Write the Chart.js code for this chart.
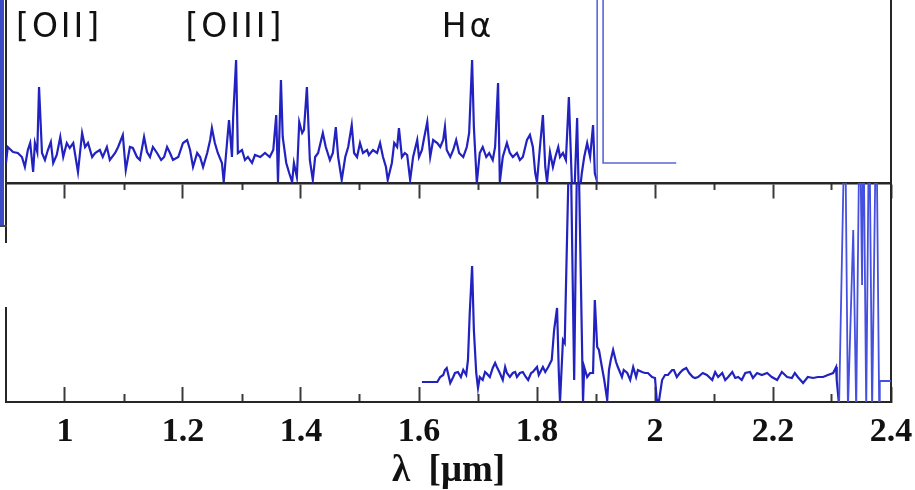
<!DOCTYPE html>
<html>
<head>
<meta charset="utf-8">
<title>Spectrum</title>
<script src="https://cdn.jsdelivr.net/npm/chart.js@4.4.1/dist/chart.umd.min.js"></script>
<style>
  body { margin: 0; background: #fff; }
  #wrap { position: relative; width: 915px; height: 490px; overflow: hidden; }
  #spec { position: absolute; left: 0; top: 0; }
  .edge { position: absolute; }
</style>
</head>
<body>
<div id="wrap">
  <canvas id="spec" width="915" height="490"></canvas>
  <div class="edge" style="left:0;top:0;width:4px;height:225px;background:#3b4cc6"></div>
  <div class="edge" style="left:0;top:225px;width:7px;height:2px;background:#444"></div>
  <div class="edge" style="left:4px;top:243px;width:5px;height:64px;background:#fff"></div>
</div>
<script>
// wavelength range in µm
const lambdaMin = 0.9;
const lambdaMax = 2.4;

const majorTicks = [1, 1.2, 1.4, 1.6, 1.8, 2, 2.2, 2.4];
const majorTickLabels = ['1', '1.2', '1.4', '1.6', '1.8', '2', '2.2', '2.4'];
const minorTicks = [1.1, 1.3, 1.5, 1.7, 1.9, 2.1, 2.3];

// emission line names and where they sit on the wavelength axis
const lineNames = ['[OII]', '[OIII]', 'H\u03b1'];
const lineLambda = [0.99, 1.288, 1.683];

// flux ranges of the two panels (arbitrary units)
const topFluxMax = 18.3;
const botFluxMax = 21.9;

// upper panel: J/H spectrum
const topLambda = [
  0.900, 0.903, 0.912, 0.920, 0.927, 0.932, 0.937, 0.941, 0.946, 0.949,
  0.953, 0.956, 0.961, 0.966, 0.971, 0.976, 0.980, 0.986, 0.992, 0.997,
  1.003, 1.008, 1.014, 1.022, 1.029, 1.034, 1.039, 1.046, 1.051, 1.059,
  1.064, 1.071, 1.076, 1.085, 1.090, 1.098, 1.103, 1.110, 1.115, 1.122,
  1.127, 1.134, 1.139, 1.144, 1.149, 1.156, 1.163, 1.168, 1.173, 1.178,
  1.183, 1.192, 1.200, 1.207, 1.212, 1.217, 1.224, 1.229, 1.234, 1.241,
  1.246, 1.249, 1.254, 1.259, 1.266, 1.269, 1.275, 1.278, 1.283, 1.285,
  1.290, 1.293, 1.300, 1.305, 1.310, 1.317, 1.322, 1.331, 1.339, 1.347,
  1.353, 1.358, 1.361, 1.366, 1.369, 1.375, 1.380, 1.385, 1.388, 1.393,
  1.397, 1.402, 1.405, 1.410, 1.415, 1.420, 1.424, 1.429, 1.437, 1.442,
  1.449, 1.454, 1.459, 1.463, 1.469, 1.475, 1.480, 1.486, 1.490, 1.495,
  1.500, 1.505, 1.512, 1.515, 1.522, 1.529, 1.534, 1.539, 1.544, 1.547,
  1.554, 1.558, 1.563, 1.566, 1.571, 1.576, 1.580, 1.585, 1.590, 1.597,
  1.600, 1.605, 1.608, 1.614, 1.619, 1.624, 1.631, 1.636, 1.641, 1.644,
  1.647, 1.653, 1.658, 1.663, 1.668, 1.675, 1.681, 1.685, 1.690, 1.693,
  1.698, 1.703, 1.708, 1.714, 1.719, 1.725, 1.729, 1.734, 1.737, 1.742,
  1.749, 1.754, 1.759, 1.766, 1.771, 1.776, 1.783, 1.788, 1.793, 1.797,
  1.800, 1.805, 1.810, 1.814, 1.817, 1.822, 1.827, 1.831, 1.836, 1.839,
  1.844, 1.849, 1.854, 1.859, 1.863, 1.868, 1.871, 1.876, 1.880, 1.885,
  1.890, 1.895, 1.898, 1.902, 1.902, 1.912, 1.912, 2.036
];
const topFlux = [
  2.0, 3.6, 3.1, 3.0, 2.6, 1.6, 3.3, 4.0, 1.1, 4.0,
  3.1, 9.6, 3.0, 2.3, 3.3, 4.1, 2.0, 2.8, 4.6, 2.6,
  4.0, 3.5, 4.0, 1.1, 5.0, 3.6, 4.0, 2.6, 3.0, 3.3,
  2.6, 3.6, 2.3, 3.0, 3.6, 4.8, 1.3, 3.6, 3.5, 2.6,
  2.3, 4.6, 3.1, 2.6, 3.6, 3.0, 2.3, 2.6, 3.6, 3.0,
  2.3, 2.6, 4.0, 4.3, 3.3, 1.6, 3.0, 2.6, 1.6, 3.0,
  4.3, 5.5, 4.0, 3.0, 2.0, 0.1, 4.3, 6.3, 2.6, 6.6,
  12.3, 3.0, 3.3, 2.3, 2.6, 2.0, 2.8, 2.6, 3.0, 2.6,
  3.3, 6.8, 0.1, 10.3, 4.6, 2.0, 1.0, 0.1, 2.0, 0.6,
  6.1, 5.0, 5.3, 9.6, 2.3, 0.3, 2.6, 3.0, 5.0, 3.6,
  2.3, 3.0, 5.6, 2.6, 0.3, 2.6, 3.6, 5.8, 3.0, 2.6,
  4.0, 3.0, 3.3, 2.8, 3.3, 3.0, 4.0, 2.6, 1.6, 0.3,
  2.0, 4.0, 3.6, 5.5, 2.6, 3.0, 2.8, 0.3, 2.6, 4.3,
  2.6, 3.3, 4.3, 6.1, 2.6, 4.3, 4.0, 3.6, 4.3, 5.6,
  3.3, 2.6, 3.3, 4.3, 3.0, 2.6, 3.6, 5.0, 12.3, 5.6,
  0.0, 3.0, 3.6, 2.6, 3.0, 2.3, 3.6, 10.0, 0.1, 2.6,
  4.0, 3.0, 2.6, 3.0, 2.3, 2.6, 4.3, 4.8, 3.6, 1.0,
  0.1, 3.6, 6.8, 1.6, 0.1, 3.1, 1.6, 2.6, 3.6, 2.6,
  3.0, 2.3, 8.6, 0.1, -1.7, 6.5, -1.7, 1.0, 2.6, 4.0,
  2.6, 5.8, 1.0, 0.1, 25.0, 25.0, 2.0, 2.0
];

// lower panel: H/K spectrum
const botLambda = [
  1.605, 1.631, 1.636, 1.641, 1.644, 1.647, 1.653, 1.658, 1.661, 1.666,
  1.671, 1.675, 1.680, 1.683, 1.686, 1.690, 1.693, 1.697, 1.700, 1.703,
  1.708, 1.712, 1.714, 1.720, 1.725, 1.729, 1.732, 1.737, 1.742, 1.746,
  1.749, 1.754, 1.759, 1.763, 1.766, 1.771, 1.776, 1.781, 1.785, 1.790,
  1.793, 1.800, 1.803, 1.810, 1.814, 1.819, 1.825, 1.829, 1.834, 1.837,
  1.839, 1.844, 1.847, 1.856, 1.863, 1.869, 1.878, 1.880, 1.885, 1.890,
  1.895, 1.898, 1.902, 1.905, 1.910, 1.914, 1.919, 1.922, 1.925, 1.929,
  1.934, 1.937, 1.944, 1.947, 1.953, 1.958, 1.963, 1.968, 1.971, 1.978,
  1.983, 1.988, 1.995, 2.000, 2.003, 2.007, 2.012, 2.017, 2.022, 2.029,
  2.032, 2.037, 2.042, 2.047, 2.053, 2.058, 2.064, 2.068, 2.073, 2.081,
  2.088, 2.097, 2.102, 2.107, 2.114, 2.119, 2.124, 2.131, 2.136, 2.141,
  2.147, 2.153, 2.161, 2.166, 2.173, 2.181, 2.190, 2.198, 2.207, 2.215,
  2.224, 2.232, 2.237, 2.242, 2.251, 2.259, 2.268, 2.276, 2.285, 2.293,
  2.302, 2.307, 2.308, 2.312, 2.322, 2.327, 2.336, 2.341, 2.347, 2.351,
  2.353, 2.358, 2.363, 2.368, 2.375, 2.380, 2.381, 2.400
];
const botFlux = [
  2.0, 2.0, 2.5, 2.7, 3.2, 3.4, 1.9, 2.5, 2.9, 3.0,
  2.5, 3.2, 2.7, 4.2, 8.9, 13.6, 7.2, 2.9, 1.4, 2.5,
  2.2, 3.0, 2.9, 2.5, 3.4, 3.9, 3.5, 2.9, 2.2, 3.5,
  2.9, 2.5, 2.9, 3.0, 2.5, 2.9, 3.0, 2.5, 2.2, 2.9,
  3.0, 3.5, 2.7, 3.5, 3.0, 3.5, 4.2, 7.2, 9.4, 2.9,
  0.0, 6.2, 5.9, 30.0, 2.2, 30.0, 0.0, 3.5, 2.5, 2.9,
  2.9, 10.2, 5.5, 5.2, 3.5, 2.2, 0.2, 3.2, 4.2, 5.2,
  4.0, 3.5, 2.5, 3.2, 2.9, 2.2, 3.5, 2.5, 3.2, 3.0,
  2.9, 2.9, 2.5, 2.4, 0.2, 0.2, 2.2, 2.7, 2.7, 3.2,
  3.2, 2.5, 2.9, 3.2, 3.4, 2.9, 2.5, 2.4, 2.5, 2.9,
  2.7, 2.2, 3.0, 2.5, 2.9, 2.2, 2.5, 3.0, 2.4, 2.5,
  2.2, 2.9, 3.0, 2.4, 2.9, 2.7, 2.9, 2.5, 2.2, 3.0,
  2.5, 2.4, 2.9, 2.5, 1.9, 2.5, 2.4, 2.5, 2.5, 2.7,
  2.9, 3.5, 2.2, -0.3, 30.0, -0.8, 17.2, -0.8, 30.0, 11.7,
  30.0, -0.8, 30.0, -0.8, 30.0, -0.8, 2.1, 2.1
];

const toPoints = (xs, ys) => xs.map((x, i) => ({ x: x, y: ys[i] }));

const frameColor = '#262626';
const tickColor = '#3a3a3a';
const lineColor = '#2222c0';
const serif = { family: '"Liberation Serif", "DejaVu Serif", serif', weight: 'bold' };

// extra x axis drawn only for its tick marks, pinned to a level of the lower panel
function tickRow(level, ticks, length, withBorder) {
    return {
        type: 'linear',
        min: lambdaMin,
        max: lambdaMax,
        position: { yBot: level },
        afterBuildTicks: axis => { axis.ticks = ticks.map(v => ({ value: v })); },
        afterFit: axis => { axis.height = 0; axis.paddingLeft = 0; axis.paddingRight = 0; },
        ticks: { display: false },
        grid: { drawOnChartArea: false, drawTicks: true, tickLength: length, tickWidth: 2, tickColor: tickColor },
        border: { display: withBorder, color: frameColor, width: 2.5 }
    };
}

function hiddenY(extra) {
    return Object.assign({
        type: 'linear',
        ticks: { display: false },
        grid: { display: false, drawTicks: false },
        border: { display: true, color: frameColor, width: 2 },
        afterFit: axis => { axis.width = 0; axis.paddingTop = 0; axis.paddingBottom = 0; }
    }, extra);
}

const lineLabelPlugin = {
    id: 'lineLabels',
    afterDatasetsDraw(chart) {
        const { ctx, chartArea, scales } = chart;
        ctx.save();
        ctx.font = '33px "DejaVu Sans", sans-serif';
        ctx.fillStyle = '#111';
        ctx.textAlign = 'center';
        ctx.textBaseline = 'alphabetic';
        ctx.letterSpacing = '3px';
        lineNames.forEach((name, i) => {
            ctx.fillText(name, scales.x.getPixelForValue(lineLambda[i]), chartArea.top + 37);
        });
        ctx.restore();
    }
};

new Chart(document.getElementById('spec'), {
    type: 'line',
    data: {
        datasets: [
            {
                data: toPoints(topLambda, topFlux),
                yAxisID: 'yTop',
                borderColor: lineColor,
                borderWidth: 2.2,
                pointRadius: 0,
                tension: 0,
                segment: {
                    borderColor: c => c.p0.parsed.x >= 1.9 ? '#5a66dc' : undefined,
                    borderWidth: c => c.p0.parsed.x >= 1.9 ? 1.6 : undefined
                }
            },
            {
                data: toPoints(botLambda, botFlux),
                yAxisID: 'yBot',
                borderColor: lineColor,
                borderWidth: 2.2,
                pointRadius: 0,
                tension: 0,
                segment: {
                    borderColor: c => c.p0.parsed.x >= 2.31 ? '#4650e0' : undefined,
                    borderWidth: c => c.p0.parsed.x >= 2.31 ? 1.8 : undefined
                }
            }
        ]
    },
    options: {
        responsive: false,
        animation: false,
        devicePixelRatio: 1,
        layout: { padding: { left: 6, right: 24, top: 0, bottom: 0 } },
        plugins: { legend: { display: false }, tooltip: { enabled: false } },
        scales: {
            x: {
                type: 'linear',
                position: 'bottom',
                min: lambdaMin,
                max: lambdaMax,
                afterBuildTicks: axis => { axis.ticks = majorTicks.map(v => ({ value: v })); },
                afterFit: axis => { axis.height = 88; axis.paddingLeft = 0; axis.paddingRight = 0; },
                ticks: {
                    autoSkip: false,
                    maxRotation: 0,
                    padding: 25,
                    color: '#111',
                    font: Object.assign({ size: 34 }, serif),
                    callback: (value, index) => majorTickLabels[index]
                },
                grid: { drawOnChartArea: false, drawTicks: true, tickLength: -15, tickWidth: 2, tickColor: tickColor },
                border: { display: true, color: frameColor, width: 2 },
                title: {
                    display: true,
                    text: '\u03bb  [\u03bcm]',
                    color: '#111',
                    font: Object.assign({ size: 37, lineHeight: 1 }, serif),
                    padding: { top: 0, bottom: 0 }
                }
            },
            xMinorBottom: tickRow(0, minorTicks, -8, false),
            xSplit: tickRow(botFluxMax, majorTicks, 14, true),
            xSplitMinor: tickRow(botFluxMax, minorTicks, 7, false),
            yBot: hiddenY({ position: 'left', stack: 'panels', stackWeight: 219, min: 0, max: botFluxMax }),
            yTop: hiddenY({ position: 'left', stack: 'panels', stackWeight: 183, min: 0, max: topFluxMax }),
            yRight: hiddenY({ position: 'right', min: 0, max: 1 })
        }
    },
    plugins: [lineLabelPlugin]
});
</script>
</body>
</html>
